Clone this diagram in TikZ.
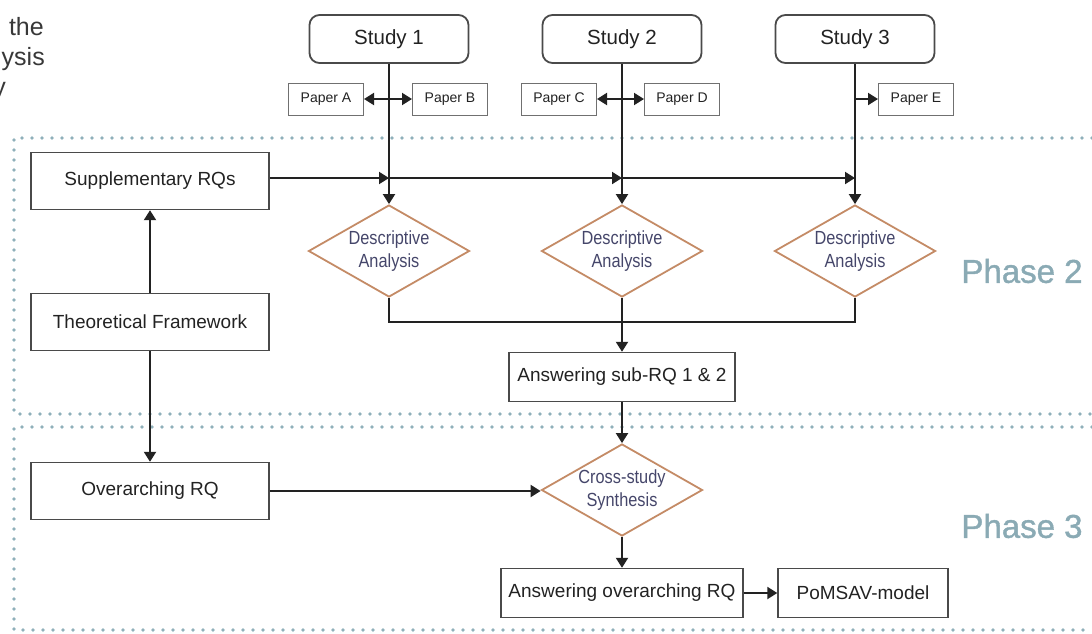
\documentclass[tikz,border=0pt]{standalone}
\usepackage{fontspec}
\setmainfont{Liberation Sans}
\newfontfamily\narrowfont[FakeStretch=0.86]{Liberation Sans}
\newfontfamily\phasefont[FakeBold=1.2]{Liberation Sans}
\usetikzlibrary{arrows.meta,shapes.geometric,calc}
\definecolor{ink}{HTML}{222222}
\definecolor{boxline}{HTML}{4A4A4A}
\definecolor{paperline}{HTML}{707070}
\definecolor{diamondline}{HTML}{C48B66}
\definecolor{diamondtext}{HTML}{45466A}
\definecolor{phasecol}{HTML}{8AAAB4}
\definecolor{dotcol}{HTML}{8FB0BA}
\begin{document}
\begin{tikzpicture}[x=1pt,y=-1pt,
  every node/.style={inner sep=0pt, text=ink},
  studybox/.style={draw=boxline, line width=1.8pt, rounded corners=10pt,
    minimum width=159pt, minimum height=48pt, font=\fontsize{20.5}{24}\selectfont},
  paperbox/.style={draw=paperline, line width=1pt, minimum width=75pt,
    minimum height=32pt, font=\fontsize{14}{16}\selectfont},
  sidebox/.style={draw=boxline, line width=1.4pt, minimum width=238pt,
    minimum height=57pt, font=\fontsize{19}{22}\selectfont},
  outbox/.style={draw=boxline, line width=1.4pt, minimum height=49pt,
    font=\fontsize{19}{22}\selectfont},
  analysis/.style={diamond, aspect=1.75, draw=diamondline, line width=1.8pt,
    minimum width=161pt, minimum height=92pt, align=center,
    text=diamondtext, font=\narrowfont\fontsize{19}{23}\selectfont},
  conn/.style={draw=ink, line width=2pt},
  arr/.style={conn, -{Triangle[length=10pt,width=12pt]}},
  dblarr/.style={conn, {Triangle[length=10pt,width=12pt]}-{Triangle[length=10pt,width=12pt]}},
  dots/.style={draw=dotcol, line width=3.8pt, line cap=round,
    dash pattern=on 0pt off 10pt},
  phase/.style={text=phasecol, font=\phasefont\fontsize{33}{33}\selectfont},
  heading/.style={anchor=base east, text=ink!90, font=\fontsize{25}{30}\selectfont}
]
\useasboundingbox (0,0) rectangle (1092,633);

% heading lines running in from the left edge
\node[heading] (h1) at (44,35) {the};
\node[heading] (h2) at (45,65) {ysis};
\node[heading] (h3) at (6,95) {y};

% phase frames
\draw[dots] (1092,138) -- (14,138) -- (14,414) -- (1092,414);
\draw[dots] (1092,427) -- (14,427) -- (14,630) -- (1092,630);
\node[phase] (ph2) at (1022,271) {Phase 2};
\node[phase] (ph3) at (1022,526) {Phase 3};

% studies and papers
\node[studybox] (s1) at (389,39) {Study 1};
\node[studybox] (s2) at (622,39) {Study 2};
\node[studybox] (s3) at (855,39) {Study 3};
\node[paperbox] (pA) at (326,99) {Paper A};
\node[paperbox] (pB) at (450,99) {Paper B};
\node[paperbox] (pC) at (559,99) {Paper C};
\node[paperbox] (pD) at (682,99) {Paper D};
\node[paperbox] (pE) at (916,99) {Paper E};

% left column
\node[sidebox] (sup) at (150,181) {Supplementary RQs};
\node[sidebox] (tf) at (150,322) {Theoretical Framework};
\node[sidebox] (ov) at (150,491) {Overarching RQ};

% analyses
\node[analysis] (d1) at (389,251) {Descriptive\\Analysis};
\node[analysis] (d2) at (622,251) {Descriptive\\Analysis};
\node[analysis] (d3) at (855,251) {Descriptive\\Analysis};
\node[outbox, minimum width=226pt] (sub) at (622,377) {Answering sub-RQ 1 \& 2};
\node[analysis] (cs) at (622,490) {Cross-study\\Synthesis};
\node[outbox, minimum width=242pt] (aor) at (622,593) {Answering overarching RQ};
\node[outbox, minimum width=170pt] (pom) at (863,593) {PoMSAV-model};

% junctions
\coordinate (j1) at (389,178);
\coordinate (j2) at (622,178);
\coordinate (j3) at (855,178);
\coordinate (m) at (622,322);

% study to analysis
\draw[arr] (s1) -- (d1);
\draw[arr] (s2) -- (d2);
\draw[arr] (s3) -- (d3);
\draw[dblarr] (pA) -- (pB);
\draw[dblarr] (pC) -- (pD);
\draw[arr] (s3.center |- pE) -- (pE);

% supplementary questions feed each analysis
\draw[arr] (sup.east |- j1) -- (j1);
\draw[arr] (j1) -- (j2);
\draw[arr] (j2) -- (j3);

% merge analyses
\draw[conn] (d1.south) -- (d1.south |- m) -- (d3.south |- m) -- (d3.south);
\draw[arr] (d2.south) -- (sub.north);
\draw[arr] (sub.south) -- (cs.north);

% left column links
\draw[arr] (tf.north) -- (sup.south);
\draw[arr] (tf.south) -- (ov.north);
\draw[arr] (ov.east) -- (ov.east -| cs.west);
\draw[arr] (cs.south) -- (aor.north);
\draw[arr] (aor.east) -- (pom.west);
\end{tikzpicture}
\end{document}
